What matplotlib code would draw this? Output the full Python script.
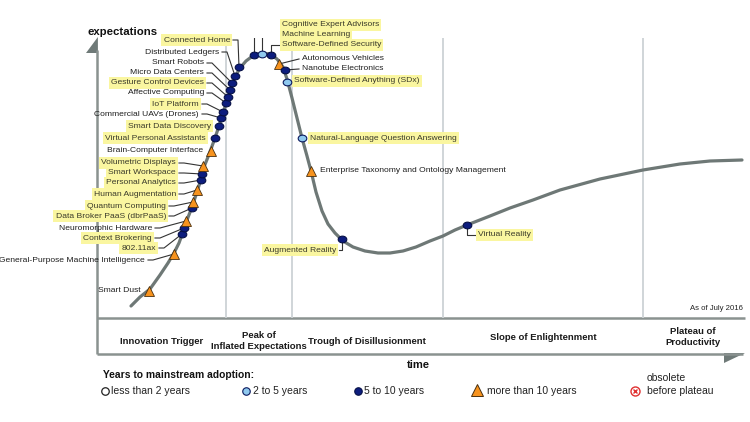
import matplotlib
matplotlib.use('Agg')
import matplotlib.pyplot as plt
from matplotlib.path import Path
from matplotlib.transforms import Affine2D
from matplotlib.patches import Polygon
from matplotlib.markers import MarkerStyle

# ---------------- data ----------------
# hype curve (time, expectations)
curve_time = [34, 43, 53, 63, 71, 77, 82, 86, 90, 95, 100, 104, 107, 111, 114, 118, 122, 126,
              130, 134, 138, 143, 149, 157, 165, 173, 180, 186, 190, 195, 200, 205, 210, 214,
              219, 225, 231, 238, 246, 256, 268, 281, 293, 306, 319, 333, 346, 358, 370, 393,
              413, 436, 463, 503, 546, 583, 613, 645]
curve_exp = [12, 21, 29, 43, 55, 65, 75, 86, 98, 111, 126, 139, 151, 161, 169, 180, 192, 205,
             217, 230, 241, 250, 257, 263, 265, 264, 259, 251, 239, 220, 200, 180, 162, 147,
             126, 107, 94, 85, 77, 71, 67, 65, 65, 67, 71, 77, 82, 88, 93, 102,
             110, 118, 128, 139, 148, 154, 157, 158]

tech_names = [
    "Smart Dust", "General-Purpose Machine Intelligence", "802.11ax", "Context Brokering",
    "Neuromorphic Hardware", "Data Broker PaaS (dbrPaaS)", "Quantum Computing",
    "Human Augmentation", "Personal Analytics", "Smart Workspace", "Volumetric Displays",
    "Brain-Computer Interface", "Virtual Personal Assistants", "Smart Data Discovery",
    "Commercial UAVs (Drones)", "IoT Platform", "Affective Computing",
    "Gesture Control Devices", "Micro Data Centers", "Smart Robots", "Distributed Ledgers",
    "Connected Home", "Cognitive Expert Advisors", "Machine Learning",
    "Software-Defined Security", "Autonomous Vehicles", "Nanotube Electronics",
    "Software-Defined Anything (SDx)", "Natural-Language Question Answering",
    "Enterprise Taxonomy and Ontology Management", "Augmented Reality", "Virtual Reality",
]
tech_time = [52, 77, 85, 87, 89, 95, 96, 100, 104, 105, 106, 114, 118, 122, 124, 126, 129,
             131, 133, 135, 138, 142, 157, 165, 174, 182, 188, 190, 205, 214, 245, 370]
tech_exp = [27, 64, 84, 90, 97, 110, 116, 128, 138, 144, 152, 167, 180, 192, 200, 206, 215,
            221, 228, 235, 242, 251, 263, 264, 263, 254, 248, 236, 180, 147, 79, 93]
# years to mainstream adoption: 1 = <2, 2 = 2-5, 3 = 5-10, 4 = >10
tech_years = [4, 4, 3, 3, 4, 3, 4, 4, 3, 3, 4, 4, 3, 3, 3, 3, 3, 3, 3, 3, 3, 3,
              3, 2, 3, 4, 3, 2, 2, 4, 3, 3]
tech_highlight = [0, 0, 1, 1, 0, 1, 1, 1, 1, 1, 1, 0, 1, 1, 0, 1, 0, 1, 0, 0, 0, 1,
                  1, 1, 1, 0, 0, 1, 1, 0, 1, 1]

phase_names = ["Innovation Trigger", "Peak of\nInflated Expectations",
               "Trough of Disillusionment", "Slope of Enlightenment",
               "Plateau of\nProductivity"]
phase_bounds = [129, 195, 346, 546]

legend_labels = ["less than 2 years", "2 to 5 years", "5 to 10 years", "more than 10 years"]
obsolete_label = ["obsolete", "before plateau"]

# ---------------- layout (label anchors) ----------------
# (x, y, ha, leader kind)
label_layout = [
    (44, 27, 'right', None), (48, 58, 'right', 'diag'), (59, 70, 'right', 'diag'),
    (55, 80, 'right', 'diag'), (55, 90, 'right', 'diag'), (69, 102, 'right', 'diag'),
    (69, 112, 'right', 'diag'), (79, 124, 'right', 'diag'), (79, 135, 'right', 'diag'),
    (79, 145, 'right', 'diag'), (79, 155, 'right', 'diag'), (106, 167, 'right', None),
    (109, 180, 'right', None), (114, 192, 'right', None), (102, 204, 'right', 'diag'),
    (102, 214, 'right', 'diag'), (107, 225, 'right', 'diag'), (107, 235, 'right', 'diag'),
    (107, 245, 'right', 'diag'), (107, 255, 'right', 'diag'), (122, 266, 'right', 'diag'),
    (133, 278, 'right', 'diag'),
    (185, 293, 'left', 'elbow'), (185, 283, 'left', 'elbow'), (185, 273, 'left', 'elbow'),
    (205, 259, 'left', 'short'), (205, 249, 'left', 'short'),
    (197, 237, 'left', None), (213, 180, 'left', None), (223, 147, 'left', None),
    (239, 68, 'right', 'elbow'), (381, 83, 'left', 'elbow'),
]

W, H = 750, 422
fig = plt.figure(figsize=(W / 100, H / 100), dpi=100)
REG = 'Liberation Sans'

lay = fig.add_axes([0, 0, 1, 1], zorder=0)
lay.set_xlim(0, W)
lay.set_ylim(H, 0)
lay.axis('off')

ax = fig.add_axes([97 / W, (H - 318) / H, 648 / W, 280 / H], zorder=1)
ax.set_xlim(0, 648)
ax.set_ylim(0, 280)
ax.axis('off')

frame_c = '#8a9290'
# phase separators
for b in phase_bounds:
    ax.plot([b, b], [0, 280], color='#cdd2d5', lw=1.3, zorder=1, solid_capstyle='butt')

# frame: y axis with arrow, time band
lay.plot([97, 97], [354, 50], color=frame_c, lw=1.8, solid_capstyle='butt')
lay.add_patch(Polygon([[97.9, 37], [86, 53], [97.9, 53]], closed=True, color='#6f7a78', lw=0))
lay.plot([97, 745], [318, 318], color=frame_c, lw=1.8, solid_capstyle='butt')
lay.plot([97, 743], [354, 354], color=frame_c, lw=1.8, solid_capstyle='butt')
lay.add_patch(Polygon([[745, 353], [724, 353], [724, 363]], closed=True, color='#6f7a78', lw=0))

# curve
ax.plot(curve_time, curve_exp, color='#6e7876', lw=2.3, zorder=2, solid_capstyle='round',
        solid_joinstyle='round')

ellipse = MarkerStyle(Path.unit_circle().transformed(Affine2D().scale(1.0, 0.78)))
styles = {
    1: dict(marker=ellipse, ms=6.2, mfc='white', mec='#0b1a5e', mew=0.8),
    2: dict(marker=ellipse, ms=6.2, mfc='#8fc9ef', mec='#0b1a5e', mew=0.8),
    3: dict(marker=ellipse, ms=6.2, mfc='#0d1d7e', mec='#061046', mew=0.8),
    4: dict(marker='^', ms=6.6, mfc='#f7931e', mec='#4a3010', mew=0.6),
}

hl_box = dict(boxstyle='square,pad=0.24', fc='#faf6a0', ec='none')
for i, name in enumerate(tech_names):
    x, y = tech_time[i], tech_exp[i]
    lx, ly, ha, kind = label_layout[i]
    sgn = 1 if ha == 'right' else -1
    if kind == 'diag':
        ax.plot([lx + 3, lx + 8, x], [ly, ly, y], color='#333333', lw=0.8, zorder=3)
    elif kind == 'elbow':
        ax.plot([lx + 3 * sgn, x, x], [ly, ly, y], color='#333333', lw=0.8, zorder=3)
    elif kind == 'short':
        ax.plot([x, lx - 3], [y, ly], color='#333333', lw=0.8, zorder=3)
    ax.plot([x], [y], ls='none', zorder=5, **styles[tech_years[i]])
    ax.text(lx, ly, name, ha=ha, va='center', fontsize=6.1, family=REG,
            color='#3a3a2a' if tech_highlight[i] else '#1e1e1e',
            bbox=hl_box if tech_highlight[i] else None, zorder=4, clip_on=False)

# axis titles and notes
lay.text(87, 32, 'expectations', fontsize=8.2, fontweight='bold', family=REG,
         ha='left', va='center', color='#111111')
lay.text(418, 365, 'time', fontsize=8.0, fontweight='bold', family=REG,
         ha='center', va='center', color='#111111')
lay.text(743, 309, 'As of July 2016', fontsize=5.6, family=REG, ha='right', va='center',
         color='#222222')

# phase names
phase_x = [162, 259, 367, 543, 693]
phase_y = [342, 341, 342, 337, 337]
for nm, px, py in zip(phase_names, phase_x, phase_y):
    lay.text(px, py, nm, fontsize=6.8, fontweight='bold', family=REG, ha='center',
             va='center', color='#1a1a1a', linespacing=1.25)

# legend
lay.text(103, 375, 'Years to mainstream adoption:', fontsize=7.4, fontweight='bold',
         family=REG, ha='left', va='center', color='#111111')
leg_marker_x = [105, 246, 358, 477]
leg_text_x = [111, 253, 364, 487]
leg_styles = [
    dict(marker='o', ms=5.4, mfc='white', mec='#222222', mew=0.9),
    dict(marker='o', ms=5.4, mfc='#8fc9ef', mec='#0b1a5e', mew=0.8),
    dict(marker='o', ms=5.4, mfc='#0d1d7e', mec='#061046', mew=0.8),
    dict(marker='^', ms=9, mfc='#f7931e', mec='#4a3010', mew=0.7),
]
for lbl, mx, tx, st in zip(legend_labels, leg_marker_x, leg_text_x, leg_styles):
    lay.plot([mx], [391 if st['marker'] == 'o' else 390], ls='none', **st)
    lay.text(tx, 391, lbl, fontsize=7.5, family=REG, ha='left', va='center',
             color='#222222')
lay.plot([635], [391], ls='none', marker='o', ms=6.5, mfc='white', mec='#e03030', mew=1.0)
lay.plot([635], [391], ls='none', marker='x', ms=3.4, mec='#e03030', mew=1.0)
lay.text(647, 378, obsolete_label[0], fontsize=7.5, family=REG, ha='left', va='center',
         color='#222222')
lay.text(647, 391, obsolete_label[1], fontsize=7.5, family=REG, ha='left', va='center',
         color='#222222')

fig.savefig('out.png', dpi=100)
